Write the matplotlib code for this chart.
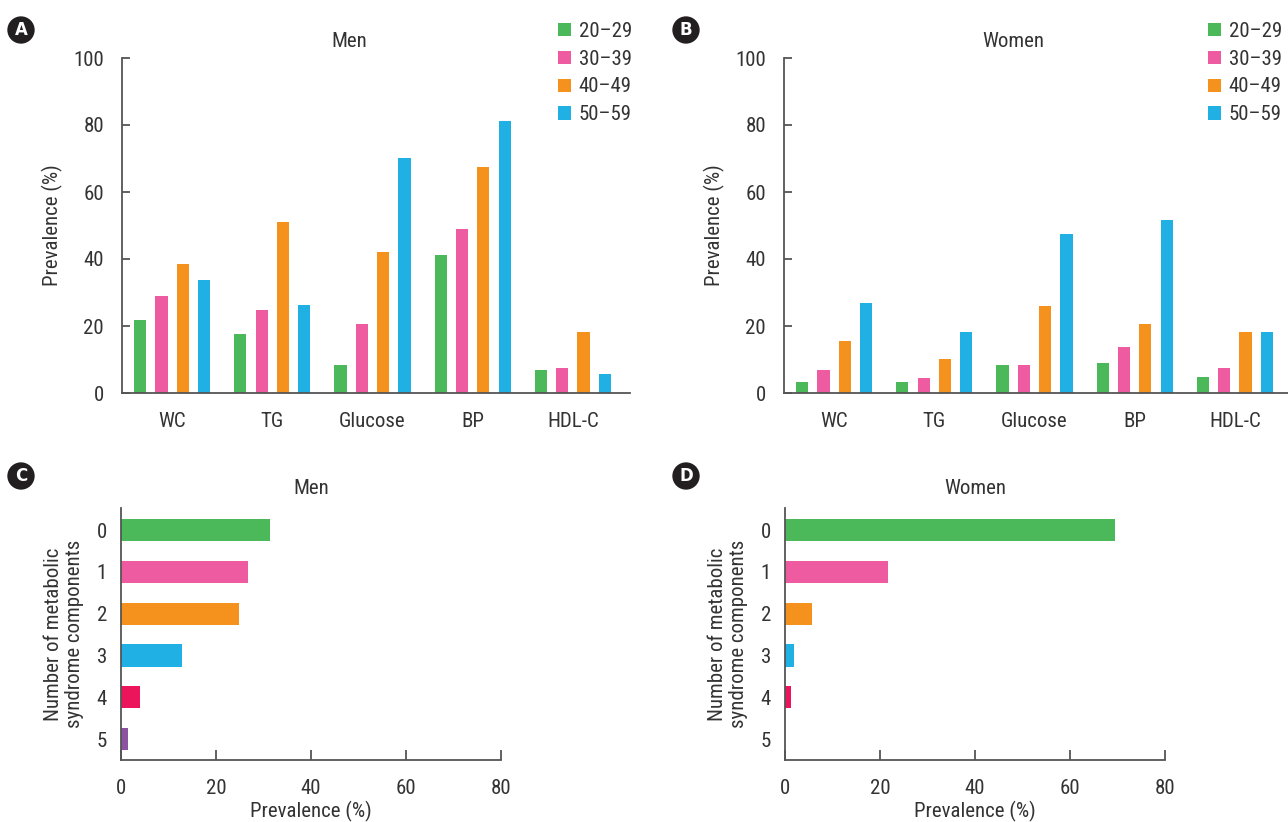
import matplotlib
matplotlib.use("Agg")
import matplotlib.pyplot as plt
import numpy as np

# ---------------- data ----------------
components = ["WC", "TG", "Glucose", "BP", "HDL-C"]
age_groups = ["20\u201329", "30\u201339", "40\u201349", "50\u201359"]

men_20_29 = [21.9, 17.5, 8.5, 41.1, 7.0]
men_30_39 = [29.1, 24.7, 20.5, 48.9, 7.6]
men_40_49 = [38.4, 51.0, 42.0, 67.5, 18.1]
men_50_59 = [33.6, 26.4, 70.2, 81.2, 5.8]

women_20_29 = [3.4, 3.4, 8.5, 9.1, 4.9]
women_30_39 = [7.0, 4.6, 8.5, 13.6, 7.6]
women_40_49 = [15.4, 10.0, 26.1, 20.5, 18.1]
women_50_59 = [27.0, 18.1, 47.4, 51.6, 18.1]

n_components = ["0", "1", "2", "3", "4", "5"]
men_count_prev = [31.3, 26.7, 24.8, 12.8, 4.0, 1.5]
women_count_prev = [69.5, 21.6, 5.6, 1.8, 1.2, 0.0]

age_colors = ["#4bb95a", "#ee5ba1", "#f5921e", "#21b0e3"]
count_colors = ["#4bb95a", "#ee5ba1", "#f5921e", "#21b0e3", "#ec145a", "#8d51a1"]

# ---------------- fonts ----------------
plt.rcParams["font.family"] = ["Roboto Condensed", "DejaVu Sans"]
TXT = "#333333"
FS = 15

W, H = 1288, 822
fig = plt.figure(figsize=(W / 100, H / 100), dpi=100)


def px_axes(l, t, r, b):
    return fig.add_axes([l / W, 1 - b / H, (r - l) / W, (b - t) / H])


def style_vbar(ax):
    for s in ["top", "right"]:
        ax.spines[s].set_visible(False)
    for s in ["left", "bottom"]:
        ax.spines[s].set_color("#555555")
        ax.spines[s].set_linewidth(1.3)
    ax.set_ylim(0, 100)
    ax.set_yticks(range(0, 101, 20))
    ax.set_xlim(-0.5, 4.57)
    ax.set_xticks(range(len(components)))
    ax.set_xticklabels(components)
    ax.tick_params(axis="y", direction="in", length=6, width=1.3, color="#555555",
                   pad=13, labelsize=FS, labelcolor=TXT)
    ax.tick_params(axis="x", length=0, pad=14, labelsize=FS, labelcolor=TXT)
    ax.set_ylabel("Prevalence (%)", fontsize=FS, color=TXT, labelpad=7)


def draw_group(ax, series, title, title_x):
    x = np.arange(len(components))
    step, width = 0.213, 0.122
    handles = []
    for k, (vals, col) in enumerate(zip(series, age_colors)):
        h = ax.bar(x + (k - 1.5) * step, vals, width=width, color=col,
                   label=age_groups[k], zorder=1)
        handles.append(h)
    style_vbar(ax)
    ax.set_title(title, fontsize=FS, color=TXT, x=title_x, y=1.0, pad=8)
    return handles


LEG_KW = dict(loc="upper left", frameon=False, fontsize=FS,
              handlelength=0.6, handleheight=0.6, handletextpad=0.4,
              labelspacing=0.42, borderaxespad=0, borderpad=0, labelcolor=TXT)

# Panel A
axA = px_axes(122, 58, 630, 393)
hA = draw_group(axA, [men_20_29, men_30_39, men_40_49, men_50_59], "Men", 0.447)
axA.legend(handles=hA, bbox_to_anchor=(558 / W, 1 - 22 / H),
           bbox_transform=fig.transFigure, **LEG_KW)

# Panel B
axB = px_axes(784, 58, 1292, 393)
hB = draw_group(axB, [women_20_29, women_30_39, women_40_49, women_50_59], "Women", 0.452)
axB.legend(handles=hB, bbox_to_anchor=(1208 / W, 1 - 22 / H),
           bbox_transform=fig.transFigure, **LEG_KW)


def draw_hbar(ax, vals, title):
    y = np.arange(len(n_components))
    ax.barh(y, vals, height=0.53, color=count_colors, zorder=1)
    ax.set_ylim(5.5, -0.53)
    ax.set_yticks(y)
    ax.set_yticklabels(n_components)
    ax.set_xlim(0, 80)
    ax.set_xticks(range(0, 81, 20))
    for s in ["top", "right"]:
        ax.spines[s].set_visible(False)
    for s in ["left", "bottom"]:
        ax.spines[s].set_color("#555555")
        ax.spines[s].set_linewidth(1.3)
    ax.tick_params(axis="x", direction="in", length=7, width=1.3, color="#555555",
                   pad=14, labelsize=FS, labelcolor=TXT)
    ax.tick_params(axis="y", length=0, pad=10, labelsize=FS, labelcolor=TXT)
    ax.set_xlabel("Prevalence (%)", fontsize=FS, color=TXT, labelpad=2)
    ax.set_ylabel("Number of metabolic\nsyndrome components", fontsize=FS,
                  color=TXT, labelpad=9, linespacing=1.15)
    ax.set_title(title, fontsize=FS, color=TXT, pad=10)


axC = px_axes(121, 508, 501, 760)
draw_hbar(axC, men_count_prev, "Men")
axD = px_axes(785, 508, 1165, 760)
draw_hbar(axD, women_count_prev, "Women")

# panel letters
for letter, (px, py) in zip("ABCD", [(21, 30), (686, 30), (21, 476), (686, 476)]):
    fig.text(px / W, 1 - py / H, letter, ha="center", va="center", color="white",
             fontsize=12, fontweight="bold", family="DejaVu Sans",
             bbox=dict(boxstyle="circle,pad=0.28", fc="#231f20", ec="none"))

fig.savefig("out.png", dpi=100)
